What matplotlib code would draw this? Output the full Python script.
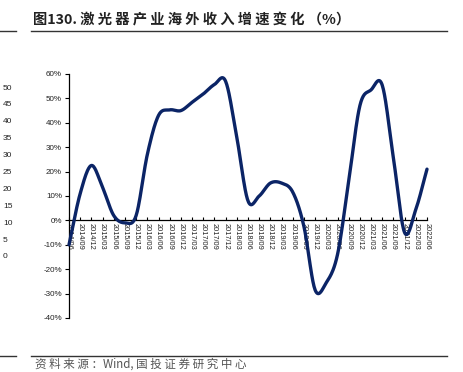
import numpy as np
import matplotlib
matplotlib.use("Agg")
import matplotlib.pyplot as plt
from matplotlib.lines import Line2D

plt.rcParams['font.family'] = ['Liberation Sans', 'Noto Sans CJK SC', 'DejaVu Sans']

quarters = ["2014/06", "2014/09", "2014/12", "2015/03", "2015/06", "2015/09", "2015/12",
            "2016/03", "2016/06", "2016/09", "2016/12", "2017/03", "2017/06", "2017/09",
            "2017/12", "2018/03", "2018/06", "2018/09", "2018/12", "2019/03", "2019/06",
            "2019/09", "2019/12", "2020/03", "2020/06", "2020/09", "2020/12", "2021/03",
            "2021/06", "2021/09", "2021/12", "2022/03", "2022/06"]
growth = [-10, 11, 22.5, 13.5, 2, -1, 2, 27, 43, 45.3, 45, 48.4, 51.8, 55.7, 57, 34, 8, 10,
          15.3, 15.3, 11.6, -2.5, -28.5, -25.5, -14, 16, 47, 53.5, 55.4, 25.5, -5, 4.5, 21]
y_ticks = [-40, -30, -20, -10, 0, 10, 20, 30, 40, 50, 60]
stray_labels = ["50", "45", "40", "35", "30", "25", "20", "15", "10", "5", "0"]


def catmull_rom(x, y, n=20):
    x = np.asarray(x, float); y = np.asarray(y, float)
    px = np.concatenate([[2 * x[0] - x[1]], x, [2 * x[-1] - x[-2]]])
    py = np.concatenate([[2 * y[0] - y[1]], y, [2 * y[-1] - y[-2]]])
    xs, ys = [], []
    t = np.linspace(0, 1, n, endpoint=False)
    for i in range(1, len(px) - 2):
        for arr, out in ((px, xs), (py, ys)):
            p0, p1, p2, p3 = arr[i - 1], arr[i], arr[i + 1], arr[i + 2]
            out.extend(0.5 * ((2 * p1) + (-p0 + p2) * t + (2 * p0 - 5 * p1 + 4 * p2 - p3) * t ** 2
                              + (-p0 + 3 * p1 - 3 * p2 + p3) * t ** 3))
    xs.append(x[-1]); ys.append(y[-1])
    return np.array(xs), np.array(ys)


fig = plt.figure(figsize=(4.64, 3.72), dpi=100)
ax = fig.add_axes([69 / 464, 1 - 318 / 372, (427 - 69) / 464, (318 - 74) / 372])

ax.spines['top'].set_visible(False)
ax.spines['right'].set_visible(False)
ax.spines['bottom'].set_position(('data', 0))
ax.spines['bottom'].set_linewidth(0.9)
ax.spines['left'].set_linewidth(0.9)

xi = np.arange(len(quarters))
sx, sy = catmull_rom(xi, growth)
ax.plot(sx, sy, color='#0b2466', lw=2.4, solid_capstyle='round', zorder=3, clip_on=False)

ax.set_xlim(0, len(quarters) - 1)
ax.set_ylim(-40, 60)
ax.set_yticks(y_ticks)
ax.set_yticklabels([f"{v}%" for v in y_ticks], fontsize=5.8, color='#222222')
ax.set_xticks(xi)
ax.set_xticklabels(quarters, rotation=-90, fontsize=5.3, color='#222222')
ax.tick_params(axis='y', direction='out', length=3, width=0.8, pad=2)
ax.tick_params(axis='x', direction='in', length=2.5, width=0.8, pad=2)

# title and rules
title = "图130. " + " ".join("激光器产业海外收入增速变化") + " （%）"
fig.text(33 / 464, 1 - 20 / 372, title, fontsize=10.3,
         fontweight='bold', family=['Noto Sans CJK SC', 'DejaVu Sans'], color='#222222',
         va='center', ha='left')
for y in (31, 356):
    fig.add_artist(Line2D([0, 16 / 464], [1 - y / 372] * 2, color='#333333', lw=1.0))
    fig.add_artist(Line2D([31 / 464, 447 / 464], [1 - y / 372] * 2, color='#333333', lw=1.0))
source = " ".join("资料来源：") + "Wind, " + " ".join("国投证券研究中心")
fig.text(35 / 464, 1 - 364 / 372, source, fontsize=8.3,
         family=['Noto Sans CJK SC', 'DejaVu Sans'], color='#555555', va='center', ha='left')

# stray labels from adjacent chart
for k, lab in enumerate(stray_labels):
    fig.text(3 / 464, 1 - (88 + k * 16.9) / 372, lab, fontsize=6, color='#222222',
             va='center', ha='left')

fig.savefig("out.png", dpi=100)
